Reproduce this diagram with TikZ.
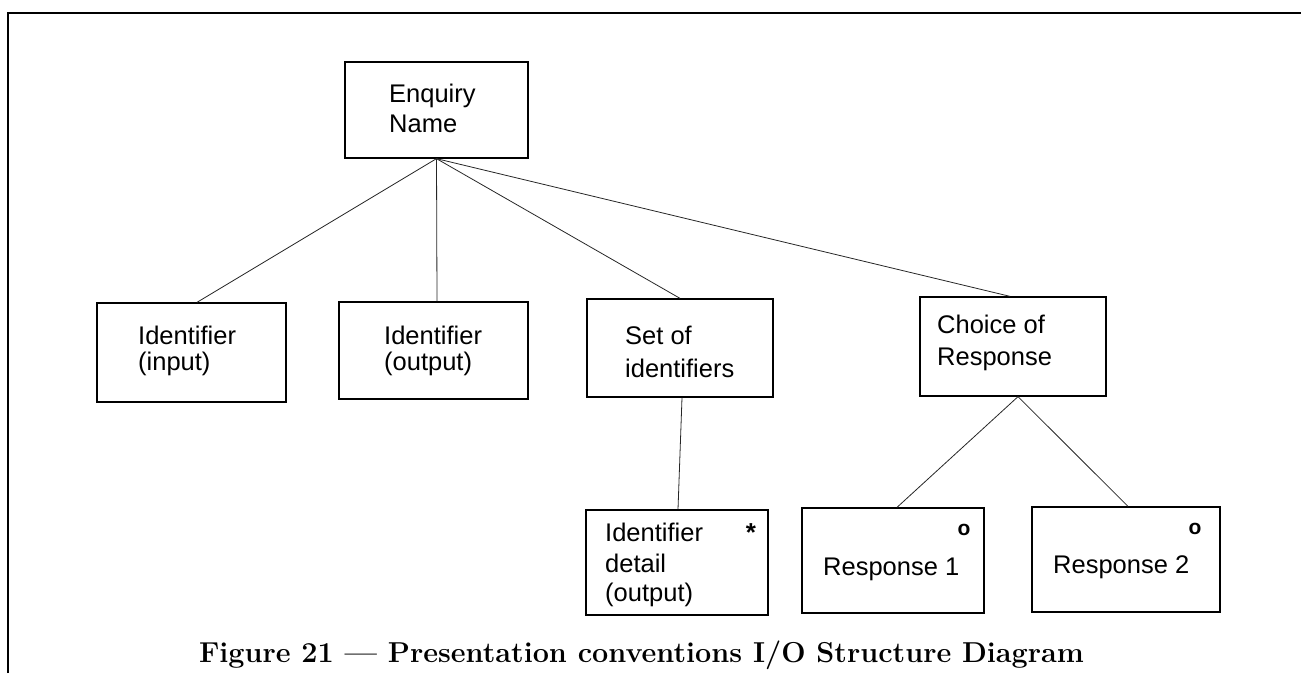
\documentclass[tikz,border=0pt]{standalone}
\usepackage{fontspec}
\setsansfont{Liberation Sans}
\begin{document}
\begin{tikzpicture}[x=1pt,y=-1pt,
  box/.style={draw=black,line width=1.3pt,rectangle,inner sep=0pt},
  link/.style={draw=black!85,line width=0.8pt},
  lbl/.style={anchor=base west,inner sep=0pt,font=\sffamily\fontsize{25.5}{30}\selectfont},
  optmark/.style={anchor=base,inner sep=0pt,font=\sffamily\bfseries\fontsize{21}{24}\selectfont},
  starmark/.style={anchor=base,inner sep=0pt,font=\sffamily\bfseries\fontsize{26}{30}\selectfont}]
\useasboundingbox (0,0) rectangle (1301,673);

% frame rules
\draw[line width=2pt] (8,673) -- (8,13) -- (1301,13);

% boxes
\node[box,minimum width=183pt,minimum height=96pt] (en) at (436.5,110) {};
\node[box,minimum width=189pt,minimum height=99pt] (idin) at (191.5,352.5) {};
\node[box,minimum width=189pt,minimum height=97pt] (idout) at (433.5,350.5) {};
\node[box,minimum width=186pt,minimum height=98pt] (setid) at (680,348) {};
\node[box,minimum width=186pt,minimum height=99pt] (choice) at (1013,346.5) {};
\node[box,minimum width=182pt,minimum height=105pt] (detail) at (677,562.5) {};
\node[box,minimum width=182pt,minimum height=105pt] (resp1) at (893,560.5) {};
\node[box,minimum width=188pt,minimum height=105pt] (resp2) at (1126,559.5) {};

% labels
\node[lbl] (en1) at (389,102) {Enquiry};
\node[lbl] (en2) at (389,132) {Name};
\node[lbl] (idin1) at (138,344) {Identifier};
\node[lbl] (idin2) at (138,370) {(input)};
\node[lbl] (idout1) at (384,344) {Identifier};
\node[lbl] (idout2) at (384,370) {(output)};
\node[lbl] (setid1) at (625,344) {Set of};
\node[lbl] (setid2) at (625,377) {identifiers};
\node[lbl] (choice1) at (937,333) {Choice of};
\node[lbl] (choice2) at (937,365) {Response};
\node[lbl] (det1) at (605,541) {Identifier};
\node[lbl] (det2) at (605,572) {detail};
\node[lbl] (det3) at (605,601) {(output)};
\node[starmark] (detstar) at (751,541) {*};
\node[lbl] (r1t) at (823,575) {Response 1};
\node[optmark] (r1o) at (964,535) {o};
\node[lbl] (r2t) at (1053,573) {Response 2};
\node[optmark] (r2o) at (1195,534) {o};

% connectors
\draw[link] (en.south) -- ([xshift=5.5pt]idin.north);
\draw[link] (en.south) -- ([xshift=3.5pt]idout.north);
\draw[link] (en.south) -- (setid.north);
\draw[link] (en.south) -- ([xshift=-3pt]choice.north);
\draw[link] ([xshift=2pt]setid.south) -- ([xshift=1pt]detail.north);
\draw[link] ([xshift=5pt]choice.south) -- ([xshift=4pt]resp1.north);
\draw[link] ([xshift=5pt]choice.south) -- ([xshift=2pt]resp2.north);

% caption
\node[anchor=base,inner sep=0pt,font=\bfseries\fontsize{28.8}{32}\selectfont] (cap) at (641.5,662)
  {Figure 21 --- Presentation conventions I/O Structure Diagram};
\end{tikzpicture}
\end{document}
